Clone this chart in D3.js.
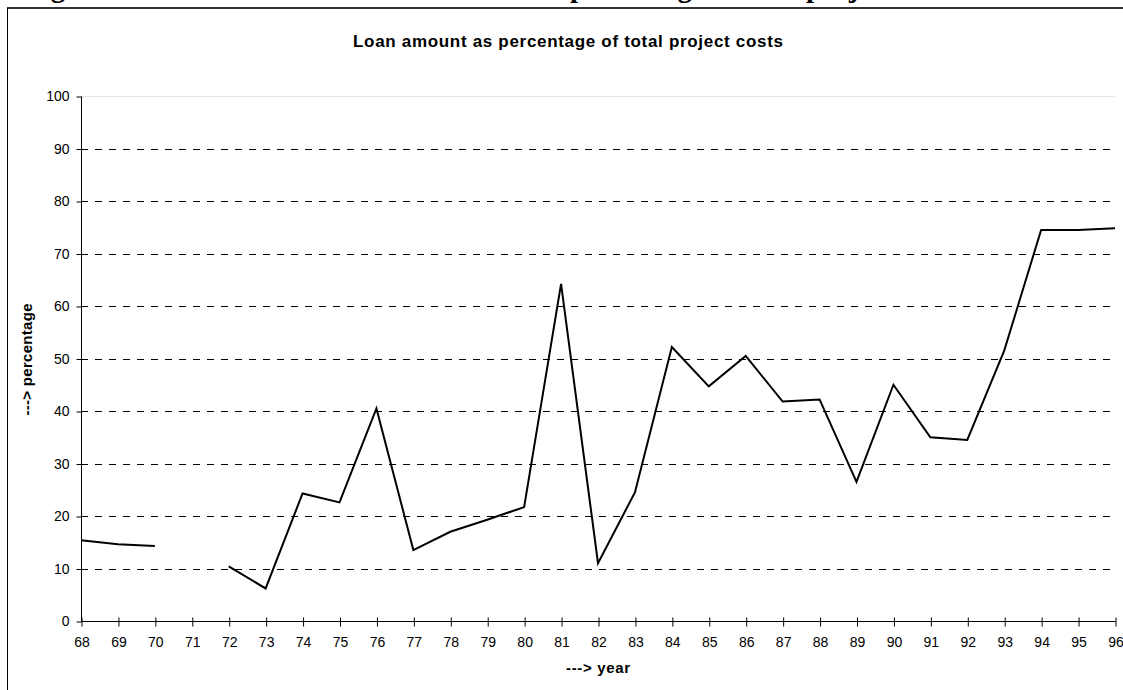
<!DOCTYPE html>
<html>
<head>
<meta charset="utf-8">
<script src="https://cdn.jsdelivr.net/npm/d3@7"></script>
<style>
  html, body { margin: 0; padding: 0; background: #fff; }
  svg { display: block; }
</style>
</head>
<body>
<svg id="chart" width="1123" height="690"></svg>
<script>
// ---- data ----
const years = [68,69,70,71,72,73,74,75,76,77,78,79,80,81,82,83,84,85,86,87,88,89,90,91,92,93,94,95,96];
const loanPct = [15.4,14.6,14.3,null,10.4,6.2,24.3,22.6,40.5,13.5,17.0,19.3,21.7,64.2,11.0,24.5,52.2,44.7,50.5,41.8,42.2,26.5,45.0,35.0,34.5,51.5,74.5,74.5,74.8];
const yTicks = [0,10,20,30,40,50,60,70,80,90,100];
const chartTitle = "Loan amount as percentage of total project costs";
const yLabel = "---> percentage";
const xLabel = "---> year";
const captionParts = ["Figure 3.2:", "Loan amount as", "percentage of total", "project costs"];

const svg = d3.select("#chart");
const pLeft = 81, pRight = 1115, pTop = 96, pBottom = 621;

const x = d3.scaleLinear().domain([68, 96]).range([pLeft, pRight]);
const y = d3.scaleLinear().domain([0, 100]).range([pBottom, pTop]);

// caption cut at top of the page (only descenders visible)
const capFont = { family: "Liberation Serif, Times New Roman, serif", size: 29 };
function capText(str, xpos, anchor) {
  return svg.append("text")
    .attr("x", xpos).attr("y", -3)
    .attr("text-anchor", anchor || "start")
    .attr("font-family", capFont.family)
    .attr("font-weight", "bold")
    .attr("font-size", capFont.size)
    .attr("fill", "#000")
    .text(str);
}
capText(captionParts[0], 25);
capText(captionParts[1], 560, "end");
capText(captionParts[2], 570);
capText(captionParts[3], 806);

// frame
svg.append("line").attr("x1", 7).attr("x2", 1123).attr("y1", 8).attr("y2", 8)
  .attr("stroke", "#333").attr("stroke-width", 2);
svg.append("line").attr("x1", 7.5).attr("x2", 7.5).attr("y1", 8).attr("y2", 690)
  .attr("stroke", "#000").attr("stroke-width", 1);

const sans = "Liberation Sans, Arial, sans-serif";

// title
svg.append("text")
  .attr("x", 568).attr("y", 47)
  .attr("text-anchor", "middle")
  .attr("font-family", sans)
  .attr("font-weight", "bold")
  .attr("font-size", 17)
  .attr("textLength", 430)
  .attr("lengthAdjust", "spacing")
  .text(chartTitle);

// gridlines
svg.append("g").selectAll("line")
  .data(yTicks.filter(d => d > 0))
  .join("line")
  .attr("x1", pLeft).attr("x2", pRight)
  .attr("y1", d => Math.round(y(d)) + 0.5).attr("y2", d => Math.round(y(d)) + 0.5)
  .attr("stroke", d => d === 100 ? "#e6e6e6" : "#000")
  .attr("stroke-width", 1)
  .attr("stroke-dasharray", d => d === 100 ? null : "7,7");

// y axis
const yAxis = svg.append("g")
  .attr("transform", `translate(${pLeft + 0.5},0.5)`)
  .call(d3.axisLeft(y).tickValues(yTicks).tickSize(5).tickPadding(7).tickFormat(d3.format("d")));
yAxis.select(".domain").attr("stroke", "#000").attr("d", `M0,${pTop}V${pBottom}`);
yAxis.selectAll(".tick line").attr("stroke", "#000");
yAxis.selectAll("text")
  .attr("font-family", sans)
  .attr("font-size", 14).attr("fill", "#000");

// x axis
const xAxis = svg.append("g")
  .attr("transform", `translate(0.5,${pBottom + 0.5})`)
  .call(d3.axisBottom(x).tickValues(years).tickSize(5).tickPadding(11).tickFormat(d3.format("d")));
xAxis.select(".domain").attr("stroke", "#000").attr("d", `M${pLeft},0H${pRight}`);
xAxis.selectAll(".tick line").attr("stroke", "#000").attr("y1", -4);
xAxis.selectAll("text")
  .attr("font-family", sans)
  .attr("font-size", 14).attr("fill", "#000");

// axis labels
svg.append("text")
  .attr("transform", `translate(32,${(pTop + pBottom) / 2 + 1}) rotate(-90)`)
  .attr("text-anchor", "middle")
  .attr("font-family", sans)
  .attr("font-weight", "bold")
  .attr("font-size", 15)
  .attr("textLength", 112)
  .attr("lengthAdjust", "spacing")
  .text(yLabel);
svg.append("text")
  .attr("x", (pLeft + pRight) / 2).attr("y", 673)
  .attr("text-anchor", "middle")
  .attr("font-family", sans)
  .attr("font-weight", "bold")
  .attr("font-size", 15)
  .attr("textLength", 64)
  .attr("lengthAdjust", "spacing")
  .text(xLabel);

// line
const data = years.map((yr, i) => ({ yr, v: loanPct[i] }));
const line = d3.line()
  .defined(d => d.v !== null)
  .x(d => x(d.yr))
  .y(d => y(d.v));
svg.append("path")
  .datum(data)
  .attr("d", line)
  .attr("fill", "none")
  .attr("stroke", "#000")
  .attr("stroke-width", 2)
  .attr("stroke-linejoin", "miter");
</script>
</body>
</html>
